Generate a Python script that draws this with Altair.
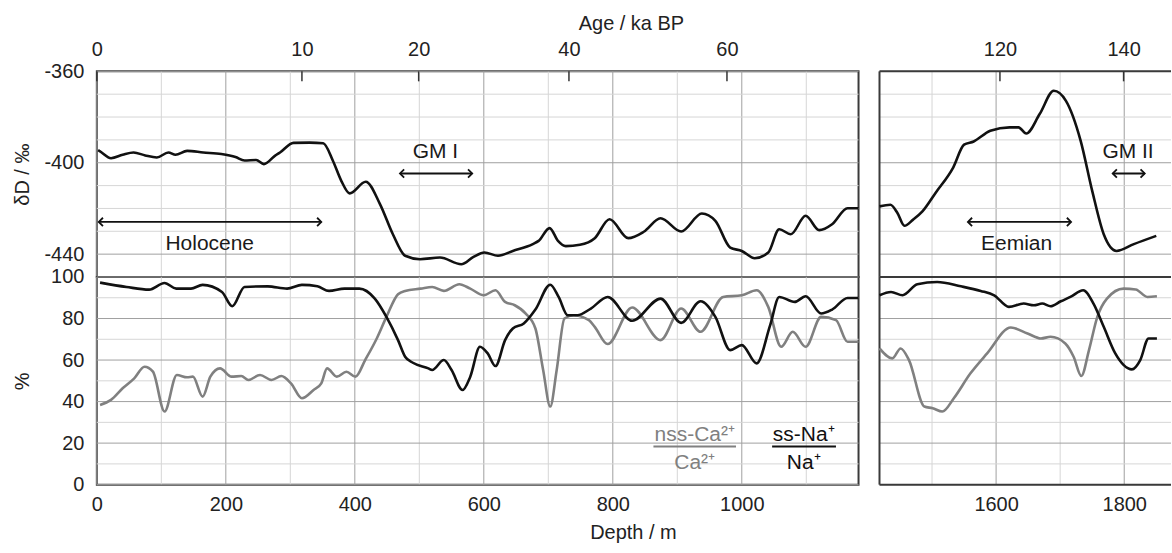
import altair as alt
import pandas as pd

FONT = "Liberation Sans"
BLACK = "#111111"
GRAY = "#808080"
MAJOR = "#a0a0a0"
MINOR = "#d6d6d6"
FRAME = "#3a3a3a"

# ---------------- data ----------------
# deltaD, left section (depth in m, deltaD in permil)
dD_left_depth = [2, 5, 22, 40, 57, 75, 93, 111, 122, 140, 165, 193, 215, 229, 247, 259, 276, 284, 305,
                 330, 351, 366, 379, 392, 417, 439, 459, 478, 501, 532, 565, 584, 601, 622, 645, 676,
                 685, 702, 715, 727, 749, 772, 795, 824, 848, 874, 906, 938, 959, 982, 1000, 1020,
                 1041, 1058, 1076, 1099, 1120, 1140, 1164, 1181]
dD_left_val = [-394.5, -395.0, -398.0, -396.5, -395.5, -396.8, -397.7, -395.5, -396.5, -394.8, -395.5,
               -396.2, -397.5, -399.0, -398.8, -400.6, -397.0, -395.5, -391.3, -391.2, -391.5, -399.1,
               -407.9, -413.4, -408.3, -418.1, -431.3, -440.7, -442.2, -441.5, -444.4, -441.2, -439.3,
               -440.7, -438.6, -435.6, -434.2, -428.6, -434.2, -436.5, -435.9, -433.0, -424.7, -433.0,
               -430.2, -424.3, -430.1, -422.2, -425.4, -437.1, -438.6, -441.8, -439.3, -429.1, -431.3,
               -423.2, -429.5, -426.9, -419.9, -419.9]
# deltaD, right section
dD_right_depth = [1418, 1435, 1446, 1457, 1470, 1485, 1506, 1533, 1550, 1565, 1591, 1621, 1635, 1647,
                  1668, 1690, 1709, 1732, 1750, 1768, 1788, 1815, 1850]
dD_right_val = [-419.1, -418.4, -422.0, -427.6, -425.0, -421.3, -413.0, -402.1, -392.1, -390.7, -386.0,
                -384.5, -384.5, -387.2, -378.7, -368.5, -372.9, -390.4, -412.3, -431.3, -438.6, -435.6,
                -432.0]

# ss-Na+/Na+ (black), left section (%)
na_left_depth = [5, 46, 81, 105, 123, 146, 164, 194, 210, 229, 265, 295, 318, 342, 360, 384, 407, 431,
                 449, 467, 478, 490, 514, 520, 538, 550, 567, 579, 594, 606, 618, 633, 645, 662, 680,
                 703, 716, 730, 745, 766, 792, 830, 874, 906, 936, 959, 982, 1000, 1023, 1044, 1058,
                 1082, 1099, 1123, 1140, 1164, 1181]
na_left_val = [97.3, 95.2, 93.9, 97.1, 94.4, 94.4, 96.2, 92.8, 85.9, 95.2, 95.5, 94.4, 96.2, 95.5, 93.3,
               94.4, 94.4, 89.6, 80.8, 69.6, 61.6, 58.7, 56.0, 55.2, 60.0, 55.2, 45.6, 52.0, 66.4, 63.2,
               57.1, 69.6, 75.2, 77.6, 84.3, 96.3, 90.4, 81.6, 81.6, 84.8, 90.4, 78.9, 89.6, 77.9, 88.3,
               80.8, 64.8, 67.2, 58.4, 76.8, 90.4, 88.0, 90.7, 82.4, 84.3, 89.9, 89.9]
# nss-Ca2+/Ca2+ (gray), left section (%)
ca_left_depth = [5, 22, 40, 58, 74, 87, 105, 124, 140, 149, 164, 176, 191, 209, 224, 235, 253, 271,
                 286, 301, 318, 336, 348, 357, 372, 387, 401, 416, 434, 449, 467, 478, 502, 520, 538,
                 562, 579, 600, 618, 633, 648, 665, 680, 692, 703, 713, 725, 739, 763, 772, 792, 830,
                 874, 906, 936, 971, 1000, 1023, 1041, 1061, 1079, 1099, 1123, 1146, 1164, 1181]
ca_left_val = [38.4, 40.8, 46.4, 51.2, 56.8, 54.4, 35.2, 52.8, 51.7, 52.0, 42.4, 52.0, 56.0, 52.0, 52.3,
               50.4, 52.8, 50.4, 52.3, 48.8, 41.6, 45.6, 48.8, 56.0, 52.0, 54.4, 52.0, 60.0, 70.4, 80.8,
               91.7, 93.3, 94.4, 95.2, 93.3, 96.5, 94.4, 91.2, 93.6, 88.0, 86.4, 82.4, 75.2, 55.2, 37.6,
               55.2, 80.0, 81.6, 79.2, 76.0, 67.7, 85.3, 69.6, 84.8, 73.6, 90.4, 91.2, 93.6, 85.6, 66.4,
               73.6, 66.4, 80.8, 79.2, 68.8, 68.8]
# right section
na_right_depth = [1418, 1436, 1454, 1477, 1508, 1545, 1576, 1597, 1620, 1643, 1659, 1672, 1685, 1701,
                  1716, 1736, 1752, 1768, 1786, 1812, 1825, 1838, 1851]
na_right_val = [91.2, 92.8, 91.2, 96.5, 97.6, 95.5, 93.3, 91.2, 85.6, 87.2, 86.4, 87.2, 85.9, 88.3,
                90.4, 93.6, 87.2, 76.0, 63.2, 55.5, 60.0, 70.4, 70.4]
ca_right_depth = [1418, 1438, 1451, 1464, 1488, 1501, 1516, 1534, 1560, 1586, 1623, 1649, 1670, 1685,
                  1708, 1721, 1733, 1745, 1758, 1773, 1799, 1818, 1836, 1851]
ca_right_val = [65.6, 60.8, 65.6, 60.0, 37.6, 36.8, 35.2, 41.6, 53.6, 63.2, 75.7, 72.8, 70.4, 71.2,
                68.0, 61.6, 52.3, 64.8, 80.8, 89.6, 94.4, 94.0, 90.4, 90.7]

# axes: depth ticks, age ticks (age in ka BP at given depth)
depth_ticks_left = [0, 200, 400, 600, 800, 1000]
depth_ticks_right = [1600, 1800]
age_left_depth = [0, 318, 499, 732, 977]
age_left_label = ["0", "10", "20", "40", "60"]
age_right_depth = [1606, 1799]
age_right_label = ["120", "140"]
dD_ticks = [-360, -400, -440]
pct_ticks = [0, 20, 40, 60, 80, 100]

# annotations
ann_left_text = ["Holocene", "GM I"]
ann_left_x = [175, 525]
ann_left_y = [-435.6, -395.5]
ann_right_text = ["Eemian", "GM II"]
ann_right_x = [1632, 1806]
ann_right_y = [-435.6, -395.5]
arrow_left_start = [3, 470]
arrow_left_end = [348, 582]
arrow_left_y = [-425.9, -404.7]
arrow_right_start = [1556, 1782]
arrow_right_end = [1717, 1832]
arrow_right_y = [-425.9, -404.7]

legend_num = ["nss-Ca²⁺", "ss-Na⁺"]
legend_den = ["Ca²⁺", "Na⁺"]
legend_x = [927, 1096]
legend_x0 = [863, 1047]
legend_x1 = [991, 1146]
legend_color = [GRAY, BLACK]

# ---------------- layout constants ----------------
W_L, W_R = 763, 292
H_T, H_B = 206, 208
XS_L = alt.Scale(domain=[0, 1181], nice=False, zero=False)
XS_R = alt.Scale(domain=[1418, 1873], nice=False, zero=False)
YS_T = alt.Scale(domain=[-450, -360], nice=False, zero=False)
YS_B = alt.Scale(domain=[0, 100], nice=False, zero=False)


def label_expr(depths, labels):
    d = ",".join(str(v) for v in depths)
    l = ",".join("'" + s + "'" for s in labels)
    return f"[{l}][indexof([{d}], datum.value)]"


PLAIN = "replace(format(datum.value, 'd'), '\u2212', '-')"


def grid(xs, ys, xaxis, yaxis, xmaj, xmin, ymaj, ymin):
    out = []
    for vals, col in ((xmin, MINOR), (xmaj, MAJOR)):
        out.append(alt.Chart(pd.DataFrame({"g": vals})).mark_rule(color=col, strokeWidth=1)
                   .encode(x=alt.X("g:Q", scale=xs, axis=xaxis)))
    for vals, col in ((ymin, MINOR), (ymaj, MAJOR)):
        out.append(alt.Chart(pd.DataFrame({"g": vals})).mark_rule(color=col, strokeWidth=1)
                   .encode(y=alt.Y("g:Q", scale=ys, axis=yaxis)))
    return out


def frame_open_right(height):
    # left, top and bottom frame lines for the right-hand panels (the right side runs off the page)
    return [
        alt.Chart(pd.DataFrame({"k": [0]})).mark_rule(color=FRAME, strokeWidth=2).encode(x=alt.value(0)),
        alt.Chart(pd.DataFrame({"k": [0]})).mark_rule(color=FRAME, strokeWidth=2).encode(y=alt.value(0)),
        alt.Chart(pd.DataFrame({"k": [0]})).mark_rule(color=FRAME, strokeWidth=2).encode(y=alt.value(height)),
    ]


def series(depths, vals, color, xs, ys, xaxis, yaxis):
    return alt.Chart(pd.DataFrame({"d": depths, "v": vals})).mark_line(
        color=color, strokeWidth=2.6, interpolate="monotone", strokeJoin="round"
    ).encode(x=alt.X("d:Q", scale=xs, axis=xaxis), y=alt.Y("v:Q", scale=ys, axis=yaxis))


def arrows(starts, ends, ys, xs, yscale, xaxis, yaxis):
    df = pd.DataFrame({"a": starts, "b": ends, "y": ys})
    rule = alt.Chart(df).mark_rule(color=BLACK, strokeWidth=1.8).encode(
        x=alt.X("a:Q", scale=xs, axis=xaxis), x2="b:Q", y=alt.Y("y:Q", scale=yscale, axis=yaxis))
    lh = alt.Chart(df).mark_point(shape="M1,-1L0,0L1,1", size=70, filled=False, color=BLACK,
                                  strokeWidth=1.8, opacity=1).encode(
        x=alt.X("a:Q", scale=xs, axis=xaxis), y=alt.Y("y:Q", scale=yscale, axis=yaxis))
    rh = alt.Chart(df).mark_point(shape="M-1,-1L0,0L-1,1", size=70, filled=False, color=BLACK,
                                  strokeWidth=1.8, opacity=1).encode(
        x=alt.X("b:Q", scale=xs, axis=xaxis), y=alt.Y("y:Q", scale=yscale, axis=yaxis))
    return [rule, lh, rh]


def texts(labels, xv, yv, xs, ys, xaxis, yaxis):
    df = pd.DataFrame({"t": labels, "x": xv, "y": yv})
    return alt.Chart(df).mark_text(font=FONT, fontSize=21, color="#1a1a1a", baseline="middle").encode(
        x=alt.X("x:Q", scale=xs, axis=xaxis), y=alt.Y("y:Q", scale=ys, axis=yaxis), text="t:N")


def age_ticks(depths, xs, xaxis):
    return alt.Chart(pd.DataFrame({"d": depths})).mark_rule(color="#333333", strokeWidth=1.5).encode(
        x=alt.X("d:Q", scale=xs, axis=xaxis), y=alt.value(0), y2=alt.value(10))


AX_COMMON = dict(labelFont=FONT, labelFontSize=20, labelColor="#222222", titleFont=FONT,
                 titleFontSize=20, titleFontWeight="normal", titleColor="#222222",
                 ticks=False, domain=False, grid=False, labelFlush=False, labelOverlap=False)

# ---- axes
ax_top_L = alt.Axis(orient="top", values=age_left_depth, labelExpr=label_expr(age_left_depth, age_left_label),
                    labelPadding=12, title="Age / ka BP", titleX=535, titlePadding=6, **AX_COMMON)
ax_top_R = alt.Axis(orient="top", values=age_right_depth,
                    labelExpr=label_expr(age_right_depth, age_right_label),
                    labelPadding=12, title=None, **AX_COMMON)
ax_bot_L = alt.Axis(orient="bottom", values=depth_ticks_left, labelPadding=10, title="Depth / m",
                    labelExpr=PLAIN, titleX=537, titlePadding=8, **AX_COMMON)
ax_bot_R = alt.Axis(orient="bottom", values=depth_ticks_right, labelPadding=10, title=None,
                    labelExpr=PLAIN, **AX_COMMON)
ax_y_T = alt.Axis(values=dD_ticks, labelPadding=13, title="δD / ‰", titlePadding=6, minExtent=58,
                  maxExtent=58, labelExpr=PLAIN, **AX_COMMON)
ax_y_B = alt.Axis(values=pct_ticks, labelPadding=13, title="%", titlePadding=6, minExtent=58,
                  maxExtent=58, labelExpr=PLAIN, **AX_COMMON)

dD_minor = [v for v in range(-450, -359, 10) if v not in dD_ticks]

# ---- top left
tl_layers = grid(XS_L, YS_T, ax_top_L, ax_y_T, depth_ticks_left, list(range(100, 1200, 200)),
                 dD_ticks, dD_minor)
tl_layers += [age_ticks(age_left_depth, XS_L, ax_top_L)]
tl_layers += arrows(arrow_left_start, arrow_left_end, arrow_left_y, XS_L, YS_T, ax_top_L, ax_y_T)
tl_layers += [texts(ann_left_text, ann_left_x, ann_left_y, XS_L, YS_T, ax_top_L, ax_y_T)]
tl_layers += [series(dD_left_depth, dD_left_val, BLACK, XS_L, YS_T, ax_top_L, ax_y_T)]
top_left = alt.layer(*tl_layers).properties(width=W_L, height=H_T)

# ---- top right
tr_layers = grid(XS_R, YS_T, ax_top_R, None, depth_ticks_right, [1500, 1700], dD_ticks, dD_minor)
tr_layers += frame_open_right(H_T)
tr_layers += [age_ticks(age_right_depth, XS_R, ax_top_R)]
tr_layers += arrows(arrow_right_start, arrow_right_end, arrow_right_y, XS_R, YS_T, ax_top_R, None)
tr_layers += [texts(ann_right_text, ann_right_x, ann_right_y, XS_R, YS_T, ax_top_R, None)]
tr_layers += [series(dD_right_depth, dD_right_val, BLACK, XS_R, YS_T, ax_top_R, None)]
top_right = alt.layer(*tr_layers).properties(width=W_R, height=H_T,
                                             view=alt.ViewBackground(strokeWidth=0))

# ---- bottom left
pct_minor = list(range(10, 100, 20))
bl_layers = grid(XS_L, YS_B, ax_bot_L, ax_y_B, depth_ticks_left, list(range(100, 1200, 200)),
                 pct_ticks, pct_minor)
bl_layers += [series(ca_left_depth, ca_left_val, GRAY, XS_L, YS_B, ax_bot_L, ax_y_B),
              series(na_left_depth, na_left_val, BLACK, XS_L, YS_B, ax_bot_L, ax_y_B)]
leg = pd.DataFrame({"num": legend_num, "den": legend_den, "x": legend_x, "x0": legend_x0,
                    "x1": legend_x1, "c": legend_color})
cscale = alt.Scale(domain=legend_color, range=legend_color)
bl_layers += [
    alt.Chart(leg).mark_text(font=FONT, fontSize=21, baseline="middle").encode(
        x=alt.X("x:Q", scale=XS_L, axis=ax_bot_L), y=alt.value(H_B - 24 * H_B / 100),
        text="num:N", color=alt.Color("c:N", scale=cscale, legend=None)),
    alt.Chart(leg).mark_text(font=FONT, fontSize=21, baseline="middle").encode(
        x=alt.X("x:Q", scale=XS_L, axis=ax_bot_L), y=alt.value(H_B - 10.6 * H_B / 100),
        text="den:N", color=alt.Color("c:N", scale=cscale, legend=None)),
    alt.Chart(leg).mark_rule(strokeWidth=2).encode(
        x=alt.X("x0:Q", scale=XS_L, axis=ax_bot_L), x2="x1:Q", y=alt.value(H_B - 18.4 * H_B / 100),
        color=alt.Color("c:N", scale=cscale, legend=None)),
]
bottom_left = alt.layer(*bl_layers).properties(width=W_L, height=H_B)

# ---- bottom right
br_layers = grid(XS_R, YS_B, ax_bot_R, None, depth_ticks_right, [1500, 1700], pct_ticks, pct_minor)
br_layers += frame_open_right(H_B)
br_layers += [series(ca_right_depth, ca_right_val, GRAY, XS_R, YS_B, ax_bot_R, None),
              series(na_right_depth, na_right_val, BLACK, XS_R, YS_B, ax_bot_R, None)]
bottom_right = alt.layer(*br_layers).properties(width=W_R, height=H_B,
                                                view=alt.ViewBackground(strokeWidth=0))

chart = alt.concat(top_left, top_right, bottom_left, bottom_right, columns=2,
                   spacing={"row": 0, "column": 21}, bounds="flush").properties(
    padding={"left": 12, "top": 12, "right": 0, "bottom": 5},
    background="white",
).configure_view(stroke=FRAME, strokeWidth=2).configure_axis(
    labelFont=FONT, titleFont=FONT
)

chart.save("out.html", embed_options={"renderer": "svg", "actions": False})
